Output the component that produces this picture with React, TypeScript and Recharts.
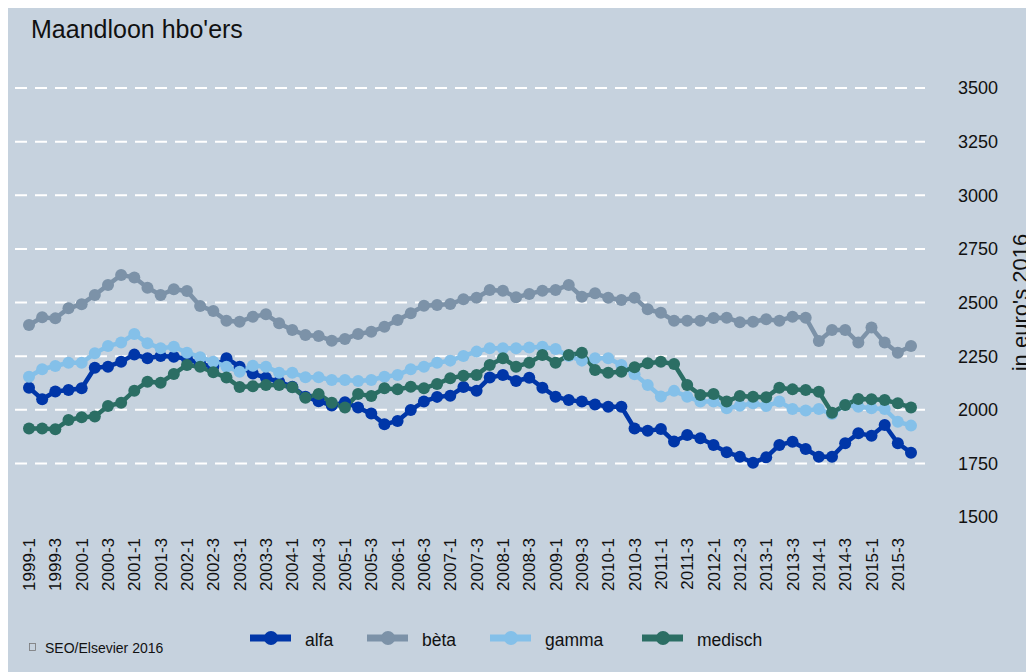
import React from "react";
import { LineChart, Line, XAxis, YAxis, CartesianGrid, Label } from "recharts";

const quarters = [
  "1999-1","1999-2","1999-3","1999-4","2000-1","2000-2","2000-3","2000-4",
  "2001-1","2001-2","2001-3","2001-4","2002-1","2002-2","2002-3","2002-4",
  "2003-1","2003-2","2003-3","2003-4","2004-1","2004-2","2004-3","2004-4",
  "2005-1","2005-2","2005-3","2005-4","2006-1","2006-2","2006-3","2006-4",
  "2007-1","2007-2","2007-3","2007-4","2008-1","2008-2","2008-3","2008-4",
  "2009-1","2009-2","2009-3","2009-4","2010-1","2010-2","2010-3","2010-4",
  "2011-1","2011-2","2011-3","2011-4","2012-1","2012-2","2012-3","2012-4",
  "2013-1","2013-2","2013-3","2013-4","2014-1","2014-2","2014-3","2014-4",
  "2015-1","2015-2","2015-3","2015-4",
];

const alfa = [
  2103, 2049, 2085, 2092, 2100, 2196, 2201, 2224, 2257, 2240, 2251, 2247,
  2238, 2215, 2200, 2240, 2201, 2169, 2149, 2130, 2107, 2061, 2040, 2020,
  2035, 2010, 1982, 1932, 1948, 1999, 2038, 2060, 2065, 2106, 2089, 2150,
  2162, 2134, 2149, 2103, 2061, 2045, 2038, 2025, 2014, 2014, 1913, 1902,
  1910, 1852, 1882, 1867, 1836, 1802, 1781, 1753, 1778, 1836, 1851, 1817,
  1781, 1781, 1844, 1890, 1879, 1929, 1844, 1800,
];

const beta = [
  2395, 2431, 2426, 2473, 2492, 2535, 2582, 2628, 2617, 2569, 2535, 2562,
  2554, 2484, 2460, 2415, 2410, 2434, 2445, 2403, 2372, 2348, 2344, 2322,
  2330, 2353, 2364, 2387, 2418, 2450, 2485, 2488, 2493, 2515, 2522, 2558,
  2555, 2524, 2540, 2555, 2558, 2582, 2527, 2543, 2522, 2512, 2522, 2468,
  2452, 2415, 2415, 2415, 2428, 2429, 2408, 2410, 2422, 2415, 2434, 2429,
  2320, 2372, 2372, 2313, 2383, 2313, 2266, 2297,
];

const gamma = [
  2154, 2189, 2204, 2219, 2219, 2263, 2297, 2313, 2353, 2310, 2287, 2294,
  2266, 2245, 2224, 2201, 2177, 2205, 2201, 2173, 2173, 2151, 2151, 2139,
  2139, 2134, 2139, 2154, 2162, 2189, 2201, 2219, 2229, 2251, 2271, 2287,
  2287, 2287, 2290, 2294, 2283, 2251, 2229, 2240, 2240, 2209, 2165, 2115,
  2062, 2088, 2061, 2038, 2038, 2007, 2019, 2030, 2017, 2038, 2003, 1996,
  2003, 1980, 2022, 2014, 2007, 2003, 1944, 1926,
];

const medisch = [
  1913, 1913, 1909, 1952, 1965, 1968, 2017, 2033, 2089, 2131, 2126, 2167,
  2209, 2200, 2175, 2150, 2106, 2110, 2115, 2115, 2105, 2056, 2073, 2033,
  2010, 2073, 2064, 2100, 2095, 2107, 2100, 2120, 2147, 2159, 2162, 2209,
  2240, 2201, 2219, 2255, 2219, 2255, 2266, 2185, 2173, 2177, 2198, 2217,
  2224, 2213, 2115, 2069, 2073, 2038, 2064, 2061, 2058, 2103, 2095, 2092,
  2084, 1986, 2022, 2050, 2049, 2045, 2030, 2011,
];

const yTicks = [1500, 1750, 2000, 2250, 2500, 2750, 3000, 3250, 3500];
const gridValues = [1750, 2000, 2250, 2500, 2750, 3000, 3250, 3500];

const seriesKeys = ["alfa", "beta", "gamma", "medisch"];
const seriesNames = ["alfa", "bèta", "gamma", "medisch"];
const seriesColors = ["#0036a8", "#7c92a8", "#84c0e9", "#2b6e64"];

const data = quarters.map((q, i) => ({
  q,
  alfa: alfa[i],
  beta: beta[i],
  gamma: gamma[i],
  medisch: medisch[i],
}));

const FONT = '"Liberation Sans", Arial, Helvetica, sans-serif';
const BG = "#c6d2de";
const TEXT = "#111111";

function XTick(props: any) {
  const { x, y, payload } = props;
  return (
    <g transform={`translate(${x},${y})`}>
      <text
        transform="rotate(-90)"
        x={-21}
        y={0}
        dy="0.36em"
        textAnchor="end"
        fontSize={17}
        fill={TEXT}
        fontFamily={FONT}
      >
        {payload.value}
      </text>
    </g>
  );
}

function YLabel(props: any) {
  const vb = props.viewBox || {};
  const cx = vb.x + 95;
  const cy = vb.y + vb.height / 2;
  return (
    <text
      x={cx}
      y={cy}
      transform={`rotate(-90 ${cx} ${cy})`}
      textAnchor="middle"
      dominantBaseline="central"
      fontSize={22}
      fill={TEXT}
      fontFamily={FONT}
    >
      in euro's 2016
    </text>
  );
}

export default function App() {
  const legendX = [242, 359, 482, 634];
  return (
    <div
      style={{
        position: "relative",
        width: 1026,
        height: 664,
        background: BG,
        fontFamily: FONT,
      }}
    >
      <LineChart
        width={1026}
        height={664}
        data={data}
        margin={{ top: 80, right: 0, bottom: 75, left: 7 }}
      >
        <CartesianGrid
          vertical={false}
          horizontalValues={gridValues}
          stroke="#ffffff"
          strokeWidth={2}
          strokeDasharray="12 8"
        />
        <XAxis
          dataKey="q"
          scale="point"
          padding={{ left: 14, right: 14 }}
          interval={1}
          height={80}
          axisLine={false}
          tickLine={false}
          tickSize={0}
          tickMargin={0}
          tick={<XTick />}
        />
        <YAxis
          orientation="right"
          type="number"
          width={109}
          domain={[1500, 3500]}
          ticks={yTicks}
          allowDataOverflow
          axisLine={false}
          tickLine={false}
          tickSize={0}
          tickMargin={33}
          tick={{ fontSize: 18, fill: TEXT, fontFamily: FONT, textAnchor: "start" }}
        >
          <Label content={YLabel} />
        </YAxis>
        {seriesKeys.map((k, i) => (
          <Line
            key={k}
            type="linear"
            dataKey={k}
            name={seriesNames[i]}
            stroke={seriesColors[i]}
            strokeWidth={4.5}
            dot={{ r: 6, fill: seriesColors[i], stroke: seriesColors[i], strokeWidth: 0 }}
            activeDot={false}
            isAnimationActive={false}
          />
        ))}
      </LineChart>
      <svg
        width={1026}
        height={664}
        style={{ position: "absolute", left: 0, top: 0, pointerEvents: "none" }}
      >
        <text x={23} y={29.5} fontSize={25} fill={TEXT} fontFamily={FONT}>
          Maandloon hbo'ers
        </text>
        <rect x={21.5} y={635.5} width={6} height={7} fill="none" stroke="#777" strokeWidth={0.8} />
        <text x={37} y={644.5} fontSize={14} fill={TEXT} fontFamily={FONT}>
          SEO/Elsevier 2016
        </text>
        {seriesNames.map((n, i) => (
          <g key={n}>
            <line
              x1={legendX[i]}
              x2={legendX[i] + 41}
              y1={630}
              y2={630}
              stroke={seriesColors[i]}
              strokeWidth={7}
            />
            <circle cx={legendX[i] + 21} cy={630} r={7} fill={seriesColors[i]} />
            <text
              x={legendX[i] + 55}
              y={638}
              fontSize={17.5}
              fill={TEXT}
              fontFamily={FONT}
            >
              {n}
            </text>
          </g>
        ))}
      </svg>
    </div>
  );
}
